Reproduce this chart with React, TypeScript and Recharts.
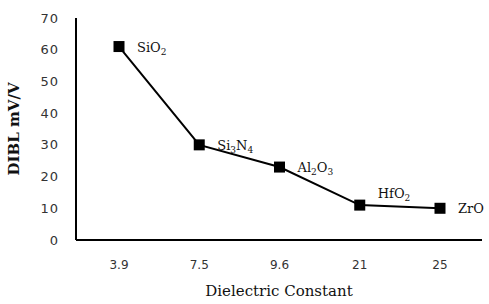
import { LineChart, Line, XAxis, YAxis, Label } from 'recharts'

const dielectricK = ['3.9', '7.5', '9.6', '21', '25']
const dibl = [61, 30, 23, 11, 10]
// material name split into [text, subscript] pairs
const materials: [string, string][][] = [
  [['SiO', '2']],
  [['Si', '3'], ['N', '4']],
  [['Al', '2'], ['O', '3']],
  [['HfO', '2']],
  [['ZrO', '']],
]
const yTicks = [0, 10, 20, 30, 40, 50, 60, 70]

const data = dielectricK.map((k, i) => ({ k, dibl: dibl[i] }))

const serif = 'DejaVu Serif, serif'

function SquareDot({ cx, cy }: { cx?: number; cy?: number }) {
  if (cx == null || cy == null) return null
  return <rect x={cx - 5.5} y={cy - 5.5} width={11} height={11} fill="#000" />
}

function MaterialLabel({ x, y, index }: { x?: number; y?: number; index?: number }) {
  if (x == null || y == null || index == null) return null
  const parts = materials[index]
  // HfO2 label sits above its point
  const dy = index === 3 ? -7 : 5
  const spans: JSX.Element[] = []
  parts.forEach(([t, s], j) => {
    spans.push(<tspan key={'t' + j} dy={j > 0 ? -3 : 0}>{t}</tspan>)
    if (s) spans.push(<tspan key={'s' + j} dy={3} fontSize={9}>{s}</tspan>)
  })
  return (
    <text x={x + 18} y={y + dy} fontFamily={serif} fontSize={13} fill="#111">
      {spans}
    </text>
  )
}

export default function App() {
  return (
    <div style={{ position: 'absolute', left: 0, top: 0, width: 489, height: 304, background: '#fff' }}>
      <LineChart width={489} height={304} data={data} margin={{ top: 18, right: 7, left: 0, bottom: 0 }}>
        <XAxis dataKey="k" height={64} tickLine={false} axisLine={{ stroke: '#000', strokeWidth: 2 }}
          padding={{ left: 43, right: 42 }}
          tick={{ fontSize: 12, fill: '#333', fontFamily: 'DejaVu Sans, sans-serif' }} tickMargin={14}>
          <Label value="Dielectric Constant" position="insideBottom" offset={8}
            style={{ fontFamily: serif, fontSize: 15, fill: '#111' }} />
        </XAxis>
        <YAxis width={76} domain={[0, 70]} ticks={yTicks} tickLine={false} axisLine={{ stroke: '#000', strokeWidth: 2 }}
          tick={{ fontSize: 13, fill: '#333', fontFamily: 'DejaVu Sans, sans-serif', letterSpacing: 1 }} tickMargin={11}>
          <Label value="DIBL mV/V" angle={-90} position="insideLeft" offset={14}
            style={{ fontFamily: serif, fontSize: 15, fontWeight: 'bold', fill: '#111', textAnchor: 'middle' }} />
        </YAxis>
        <Line dataKey="dibl" stroke="#000" strokeWidth={2} isAnimationActive={false}
          dot={<SquareDot />} activeDot={false} label={<MaterialLabel />} />
      </LineChart>
    </div>
  )
}
